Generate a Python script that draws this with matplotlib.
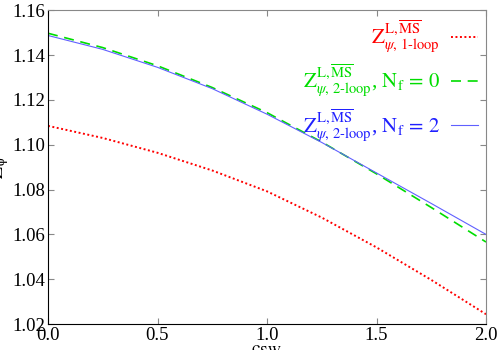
import numpy as np
import matplotlib
matplotlib.use('Agg')
import matplotlib.pyplot as plt

# values
c_sw = [0.0, 0.25, 0.5, 0.75, 1.0, 1.25, 1.5, 1.75, 2.0]
z_1loop = [1.1084, 1.1030, 1.0964, 1.0885, 1.0792, 1.0675, 1.0542, 1.0397, 1.0244]
z_2loop_nf0 = [1.1497, 1.1433, 1.1352, 1.1255, 1.1143, 1.1012, 1.0870, 1.0720, 1.0566]
z_2loop_nf2 = [1.1487, 1.1425, 1.1345, 1.1250, 1.1136, 1.1010, 1.0874, 1.0738, 1.0600]

xticks = [0.0, 0.5, 1.0, 1.5, 2.0]
yticks = [1.02, 1.04, 1.06, 1.08, 1.10, 1.12, 1.14, 1.16]

plt.rcParams['font.family'] = ['Liberation Serif', 'DejaVu Serif']
plt.rcParams['mathtext.fontset'] = 'stix'

zmath = r'\mathrm{Z}^{\mathrm{L},\overline{\mathrm{MS}}}'
lab1 = r'$' + zmath + r'_{\psi,\,\text{1-loop}}$'
lab2 = r'$' + zmath + r'_{\psi,\,\text{2-loop}}$, $\mathrm{N_f\,=\,0}$'
lab3 = r'$' + zmath + r'_{\psi,\,\text{2-loop}}$, $\mathrm{N_f\,=\,2}$'

fig = plt.figure(figsize=(5, 3.5), dpi=100)
ax = fig.add_axes([0.096, 0.074, 0.876, 0.897])

ax.plot(c_sw, z_1loop, color='red', lw=1.4, ls=(0, (1, 1.3)), label=lab1)
ax.plot(c_sw, z_2loop_nf0, color='#00dd00', lw=1.2, ls=(0, (6, 4)), label=lab2)
ax.plot(c_sw, z_2loop_nf2, color='#6060ff', lw=0.8, label=lab3)

ax.set_xlim(0, 2)
ax.set_ylim(1.02, 1.16)
ax.set_xticks(xticks)
ax.set_xticklabels(['%.1f' % v for v in xticks])
ax.set_yticks(yticks)
ax.set_yticklabels(['%.2f' % v for v in yticks])
ax.tick_params(direction='in', length=4, labelsize=13.5, top=True, right=True,
               color='#888888')
ax.tick_params(axis='both', pad=2)
for s in ['top', 'right']:
    ax.spines[s].set_color('#888888')
for s in ['left', 'bottom']:
    ax.spines[s].set_color('black')

ax.set_xlabel(r'$\mathrm{c_{SW}}$', fontsize=14, labelpad=-1)
ax.set_ylabel(r'$\mathrm{Z_{\psi}}$', fontsize=14, labelpad=1)

leg = ax.legend(loc='upper right', bbox_to_anchor=(1.0, 1.0), frameon=False,
                markerfirst=False, fontsize=15, handlelength=1.3,
                handletextpad=0.5, labelspacing=0.4, borderaxespad=0.0)
for t, c in zip(leg.get_texts(), ['red', '#00dd00', '#2020ff']):
    t.set_color(c)

fig.savefig('out.png', dpi=100)
